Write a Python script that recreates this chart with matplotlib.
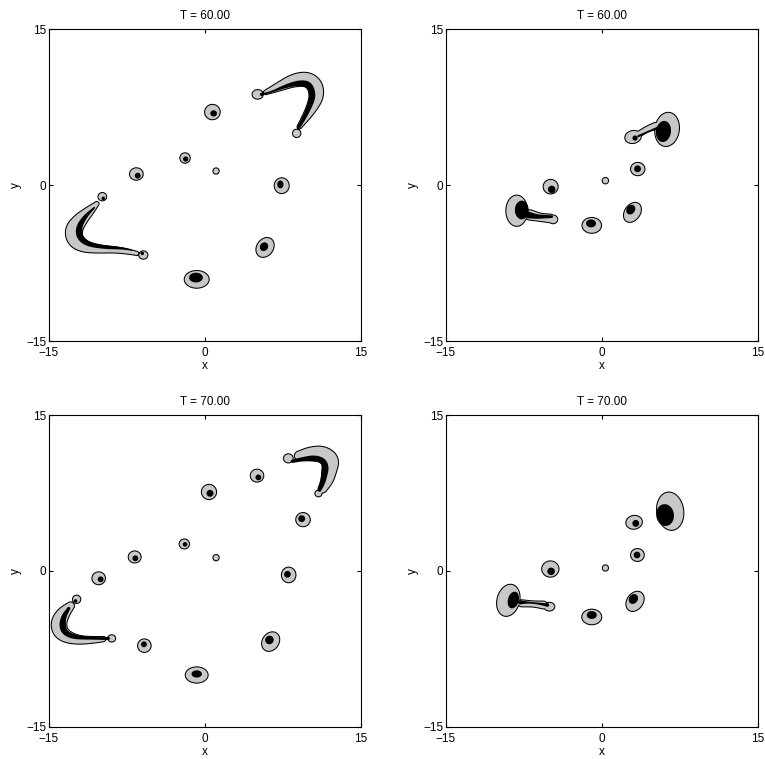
import numpy as np
import matplotlib
matplotlib.use('Agg')
from matplotlib import pyplot as plt

plt.rcParams['font.family'] = ['Liberation Sans', 'DejaVu Sans']

# Spots: (x, y, a, b, angle in deg). "halo" = grey region, "core" = black region.
# Arms: list of (x, y, half-width) along the centre line.

# ---- T = 60, left ----
halo_60L = [(0.71, 7.02, 0.75, 0.74, 0), (-1.92, 2.6, 0.5, 0.5, 0), (1.06, 1.35, 0.3, 0.3, 0),
            (-6.6, 1.06, 0.66, 0.6, 0), (7.37, -0.06, 0.72, 0.76, 0), (5.77, -6.0, 0.8, 1.02, -35),
            (-0.8, -9.07, 1.2, 0.85, 0),
            (-9.87, -1.12, 0.42, 0.4, 0), (-5.93, -6.73, 0.44, 0.4, 0),
            (5.06, 8.72, 0.54, 0.46, 0), (8.81, 4.97, 0.4, 0.4, 0)]
core_60L = [(0.83, 6.89, 0.32, 0.3, 0), (-1.86, 2.5, 0.25, 0.25, 0), (-6.47, 0.9, 0.28, 0.28, 0),
            (7.24, 0.06, 0.3, 0.38, 0), (5.67, -5.93, 0.38, 0.44, -35), (-0.87, -8.9, 0.66, 0.47, 0),
            (-9.78, -1.28, 0.17, 0.17, 0), (-6.03, -6.57, 0.17, 0.17, 0),
            (5.45, 8.72, 0.18, 0.16, 0)]
halo_arms_60L = [
    [(-10.4, -1.8, 0.22), (-11.12, -2.5, 0.45), (-12.0, -3.33, 0.66), (-12.68, -4.33, 0.84),
     (-12.5, -5.33, 0.76), (-11.62, -5.93, 0.56), (-10.26, -6.17, 0.38), (-8.65, -6.22, 0.3),
     (-7.37, -6.41, 0.24), (-6.57, -6.57, 0.2)],
    [(5.83, 8.91, 0.22), (7.08, 9.45, 0.42), (8.5, 10.08, 0.62), (9.74, 10.22, 0.7),
     (10.55, 9.68, 0.75), (10.76, 8.62, 0.7), (10.28, 7.45, 0.52), (9.55, 6.3, 0.34),
     (9.07, 5.61, 0.22)]]
core_arms_60L = [
    [(-10.64, -2.18, 0.08), (-11.4, -2.9, 0.18), (-11.98, -3.72, 0.26), (-12.15, -4.45, 0.32),
     (-11.95, -5.15, 0.3), (-11.2, -5.7, 0.24), (-9.62, -5.98, 0.18), (-8.0, -6.07, 0.12),
     (-7.05, -6.25, 0.06)],
    [(5.45, 8.72, 0.1), (6.41, 8.97, 0.07), (7.7, 9.5, 0.17), (8.95, 9.82, 0.26),
     (9.85, 9.75, 0.3), (10.2, 9.25, 0.32), (10.35, 8.5, 0.3), (10.0, 7.45, 0.24),
     (9.45, 6.3, 0.18), (8.97, 5.51, 0.15)]]

# ---- T = 60, right ----
halo_60R = [(-4.94, -0.16, 0.72, 0.7, 0), (0.32, 0.42, 0.31, 0.31, 0), (3.43, 1.54, 0.69, 0.64, 0),
            (2.92, -2.63, 0.75, 1.05, -35), (-0.99, -3.88, 0.94, 0.76, 0),
            (6.25, 5.35, 1.18, 1.65, -8), (2.98, 4.62, 0.8, 0.62, 12),
            (-8.2, -2.47, 1.05, 1.5, 0), (-4.7, -3.3, 0.44, 0.42, 0)]
core_60R = [(-4.84, -0.42, 0.36, 0.36, 0), (3.41, 1.56, 0.33, 0.33, 0), (2.76, -2.36, 0.4, 0.5, -35),
            (-1.06, -3.69, 0.48, 0.38, 0), (5.9, 5.15, 0.72, 1.02, -8), (3.17, 4.52, 0.25, 0.25, 0),
            (-7.72, -2.4, 0.66, 0.9, 0)]
halo_arms_60R = [
    [(3.65, 4.97, 0.28), (4.45, 5.45, 0.28), (5.1, 5.67, 0.34)],
    [(-6.92, -2.88, 0.5), (-5.96, -3.11, 0.38), (-5.0, -3.21, 0.42)]]
core_arms_60R = [
    [(3.5, 4.71, 0.1), (4.78, 5.29, 0.07), (5.32, 5.45, 0.15)],
    [(-7.08, -2.88, 0.32), (-6.28, -3.04, 0.22), (-5.32, -3.04, 0.16), (-4.84, -3.04, 0.13)]]

# ---- T = 70, left ----
halo_70L = [(1.06, 1.28, 0.3, 0.3, 0), (-1.99, 2.6, 0.5, 0.48, 0), (-6.76, 1.35, 0.62, 0.58, 0),
            (-10.22, -0.7, 0.65, 0.62, 0), (-5.83, -7.18, 0.65, 0.65, 0), (-0.8, -10.0, 1.1, 0.78, 0),
            (6.31, -6.79, 0.8, 1.0, -35), (8.04, -0.38, 0.7, 0.75, 0), (9.42, 4.94, 0.7, 0.68, 0),
            (0.38, 7.6, 0.73, 0.73, 0), (5.0, 9.17, 0.65, 0.62, 0),
            (8.01, 10.83, 0.47, 0.44, 0), (10.9, 7.45, 0.34, 0.32, 0),
            (-12.34, -2.72, 0.4, 0.4, 0), (-8.97, -6.48, 0.38, 0.35, 0)]
core_70L = [(-1.92, 2.56, 0.22, 0.22, 0), (-6.7, 1.22, 0.28, 0.28, 0), (-10.03, -0.8, 0.28, 0.28, 0),
            (-5.87, -7.05, 0.28, 0.28, 0), (-0.8, -9.9, 0.5, 0.35, 0), (6.19, -6.63, 0.4, 0.42, -35),
            (7.92, -0.32, 0.32, 0.32, 0), (9.29, 5.03, 0.33, 0.33, 0), (0.48, 7.47, 0.33, 0.33, 0),
            (5.13, 9.0, 0.28, 0.28, 0), (-12.44, -2.88, 0.17, 0.17, 0)]
halo_arms_70L = [
    [(9.04, 11.08, 0.45), (10.14, 11.27, 0.68), (11.29, 11.29, 0.76), (12.13, 10.69, 0.8),
     (11.95, 9.71, 0.72), (11.77, 8.76, 0.58), (11.3, 7.92, 0.42)],
    [(-12.93, -3.35, 0.38), (-13.62, -4.05, 0.62), (-14.06, -4.87, 0.75), (-13.99, -5.72, 0.74),
     (-13.38, -6.3, 0.6), (-12.18, -6.65, 0.42), (-10.74, -6.63, 0.32), (-9.78, -6.55, 0.25)]]
core_arms_70L = [
    [(8.4, 10.55, 0.16), (9.35, 10.75, 0.2), (10.5, 10.88, 0.28), (11.35, 10.6, 0.3),
     (11.6, 9.95, 0.32), (11.45, 9.2, 0.3), (11.3, 8.45, 0.24), (11.0, 7.8, 0.18)],
    [(-13.1, -3.6, 0.15), (-13.6, -4.4, 0.25), (-13.72, -5.3, 0.32), (-13.45, -5.95, 0.28),
     (-12.6, -6.35, 0.22), (-11.2, -6.45, 0.15), (-9.95, -6.5, 0.12), (-9.3, -6.48, 0.16)]]

# ---- T = 70, right ----
halo_70R = [(3.08, 4.68, 0.8, 0.66, 10), (3.4, 1.54, 0.66, 0.62, 0), (0.32, 0.29, 0.3, 0.3, 0),
            (-4.97, 0.19, 0.83, 0.78, 0), (3.17, -2.92, 0.78, 1.05, -35), (-0.99, -4.42, 0.96, 0.75, 0),
            (6.55, 5.75, 1.3, 1.85, 8), (-9.01, -2.82, 1.09, 1.57, -15), (-5.06, -3.43, 0.52, 0.42, 0)]
core_70R = [(3.24, 4.58, 0.33, 0.33, 0), (3.36, 1.54, 0.32, 0.32, 0), (-4.9, -0.03, 0.36, 0.36, 0),
            (3.01, -2.69, 0.42, 0.5, -35), (-0.99, -4.23, 0.48, 0.38, 0),
            (6.06, 5.38, 0.85, 1.05, 8), (-8.53, -2.79, 0.52, 0.82, -15)]
halo_arms_70R = [
    [(-7.72, -3.11, 0.34), (-6.6, -3.17, 0.28), (-5.64, -3.27, 0.38)]]
core_arms_70R = [
    [(-7.88, -3.01, 0.2), (-6.92, -3.04, 0.06), (-5.64, -3.2, 0.12), (-5.26, -3.27, 0.18)]]

titles = ['T = 60.00', 'T = 60.00', 'T = 70.00', 'T = 70.00']
lims = [-15, 15]
ticks = [-15, 0, 15]

xs = np.linspace(-15, 15, 701)
X, Y = np.meshgrid(xs, xs)


def ellipse_field(cx, cy, a, b, ang):
    t = np.deg2rad(ang)
    dx, dy = X - cx, Y - cy
    u = dx * np.cos(t) + dy * np.sin(t)
    v = -dx * np.sin(t) + dy * np.cos(t)
    return 1 - np.sqrt((u / a) ** 2 + (v / b) ** 2)


def chaikin(p, n=3):
    # smooth the centre line a bit
    for _ in range(n):
        q = [p[0]]
        for i in range(len(p) - 1):
            q.append(0.75 * p[i] + 0.25 * p[i + 1])
            q.append(0.25 * p[i] + 0.75 * p[i + 1])
        q.append(p[-1])
        p = np.array(q)
    return p


def arm_field(pts):
    p = chaikin(np.array(pts, float))
    f = np.full(X.shape, -10.0)
    for (x0, y0, r0), (x1, y1, r1) in zip(p[:-1], p[1:]):
        dx, dy = x1 - x0, y1 - y0
        L2 = dx * dx + dy * dy
        t = np.clip(((X - x0) * dx + (Y - y0) * dy) / L2, 0, 1)
        d = np.hypot(X - x0 - t * dx, Y - y0 - t * dy)
        r = r0 + t * (r1 - r0)
        f = np.maximum(f, 1 - d / r)
    return f


def field(spots, arms):
    f = np.full(X.shape, -10.0)
    for s in spots:
        f = np.maximum(f, ellipse_field(*s))
    for a in arms:
        f = np.maximum(f, arm_field(a))
    return f


def panel(ax, halos, cores, halo_arms, core_arms, title):
    F = field(halos, halo_arms)
    G = field(cores, core_arms)
    ax.contourf(X, Y, F, levels=[0, 5], colors=['#c8c8c8'], antialiased=True)
    ax.contourf(X, Y, G, levels=[0, 5], colors=['k'], antialiased=True)
    ax.contour(X, Y, F, levels=[0], colors='k', linewidths=0.75)
    ax.set_xlim(lims)
    ax.set_ylim(lims)
    ax.set_xticks(ticks)
    ax.set_yticks(ticks)
    ax.tick_params(direction='in', top=True, right=True, length=3, labelsize=8.5)
    ax.tick_params(axis='x', pad=4)
    ax.tick_params(axis='y', pad=2)
    ax.set_xlabel('x', fontsize=8.5, labelpad=1)
    ax.set_ylabel('y', fontsize=8.5, labelpad=3)
    ax.set_title(title, fontsize=8.5, pad=7)
    for s in ax.spines.values():
        s.set_linewidth(0.8)


fig = plt.figure(figsize=(7.65, 7.59), dpi=100)
ax1 = fig.add_axes([0.064, 0.5507, 0.408, 0.411])
ax2 = fig.add_axes([0.583, 0.5507, 0.408, 0.411])
ax3 = fig.add_axes([0.064, 0.0422, 0.408, 0.411])
ax4 = fig.add_axes([0.583, 0.0422, 0.408, 0.411])

panel(ax1, halo_60L, core_60L, halo_arms_60L, core_arms_60L, titles[0])
panel(ax2, halo_60R, core_60R, halo_arms_60R, core_arms_60R, titles[1])
panel(ax3, halo_70L, core_70L, halo_arms_70L, core_arms_70L, titles[2])
panel(ax4, halo_70R, core_70R, halo_arms_70R, core_arms_70R, titles[3])

fig.savefig('out.png', dpi=100)
